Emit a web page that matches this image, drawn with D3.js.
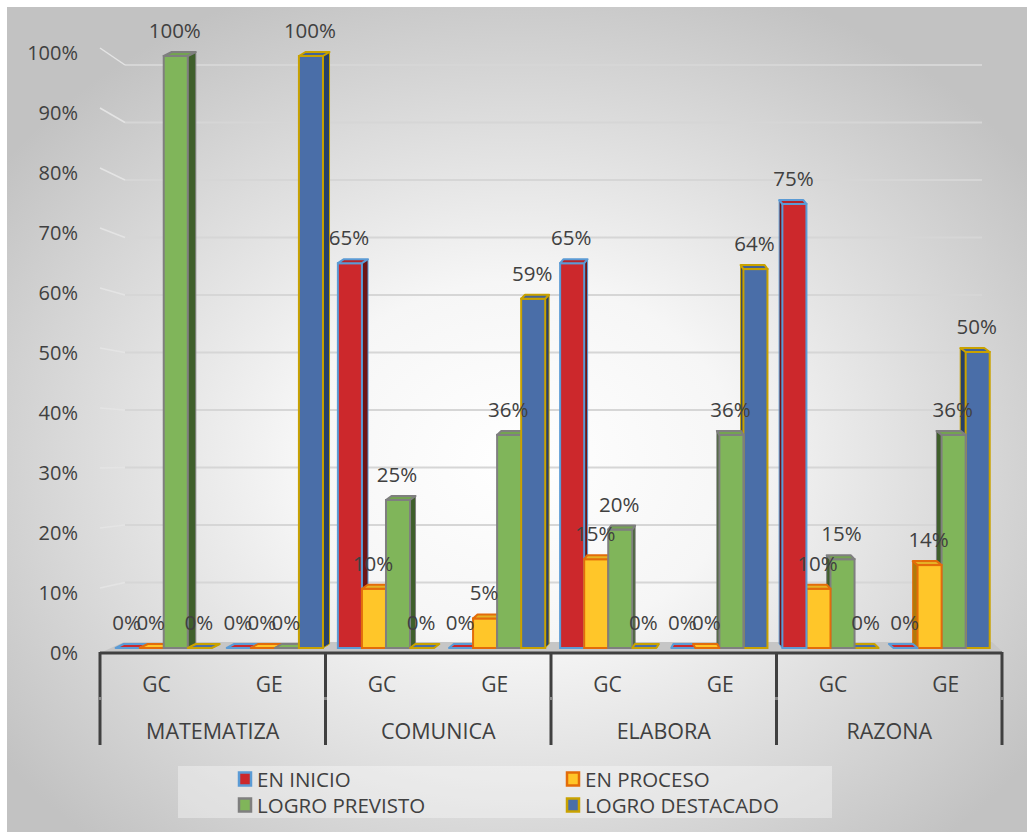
<!DOCTYPE html>
<html>
<head>
<meta charset="utf-8">
<script src="https://cdn.jsdelivr.net/npm/d3@7"></script>
<style>
    html, body { margin: 0; padding: 0; background: #fff; }
    svg { display: block; font-family: "Open Sans", sans-serif; }
</style>
</head>
<body>
<div id="chart"></div>
<script>
// categories
const groups = ['MATEMATIZA', 'COMUNICA', 'ELABORA', 'RAZONA'];
const subgroups = ['GC', 'GE'];
const seriesNames = ['EN INICIO', 'EN PROCESO', 'LOGRO PREVISTO', 'LOGRO DESTACADO'];

// values in %, order: MAT GC, MAT GE, COM GC, COM GE, ELA GC, ELA GE, RAZ GC, RAZ GE
const enInicio       = [0,   0,  65,  0, 65,  0, 75,  0];
const enProceso      = [0,   0,  10,  5, 15,  0, 10, 14];
const logroPrevisto  = [100, 0,  25, 36, 20, 36, 15, 36];
const logroDestacado = [0, 100,   0, 59,  0, 64,  0, 50];

const yTicks = [0, 10, 20, 30, 40, 50, 60, 70, 80, 90, 100];

// look of each series
const fills   = ['#cc282c', '#ffc629', '#80b55a', '#4a6ea8'];
const sides   = ['#6e1416', '#b07a0a', '#3f5f2b', '#28406a'];
const strokes = ['#5b9bd5', '#e36c0a', '#7f7f7f', '#c9a200'];

const width = 1027, height = 832;
const topDepth = 4;
const viewX = 690;   // x where the 3d view looks straight on
const textColor = '#404040';

const svg = d3.select('#chart')
    .append('svg')
    .attr('width', width)
    .attr('height', height);

const defs = svg.append('defs');
const bg = defs.append('radialGradient')
    .attr('id', 'bg')
    .attr('cx', '50%').attr('cy', '55%').attr('r', '62%');
bg.append('stop').attr('offset', '0%').attr('stop-color', '#ffffff');
bg.append('stop').attr('offset', '35%').attr('stop-color', '#f6f6f6');
bg.append('stop').attr('offset', '100%').attr('stop-color', '#c2c2c2');

svg.append('rect')
    .attr('x', 7).attr('y', 7)
    .attr('width', width - 7).attr('height', height - 7)
    .attr('fill', 'url(#bg)');

/* scales: axis bands, and slightly narrower bands for the bars (3d front plane) */
const x0 = d3.scaleBand().domain(groups).range([100, 1002]);
const x1 = d3.scaleBand().domain(subgroups).range([0, x0.bandwidth()]);

const xb0 = d3.scaleBand().domain(groups).range([104, 993]);
const xb1 = d3.scaleBand().domain(subgroups).range([0, xb0.bandwidth()]);
const xb2 = d3.scaleBand().domain(seriesNames).range([0, xb1.bandwidth()])
    .paddingInner(0).paddingOuter(0.31).align(0.78);

const y = d3.scaleLinear().domain([0, 100]).range([648, 56]);      // bars
const yLab = d3.scaleLinear().domain([0, 100]).range([653, 53]);   // axis labels
const yWall = d3.scaleLinear().domain([0, 100]).range([640, 65]);  // back wall

/* gridlines on the back wall */
const grid = svg.append('g').attr('class', 'grid');
grid.selectAll('.gl')
    .data(yTicks.filter(t => t > 0))
    .enter().append('line')
    .attr('x1', 125).attr('x2', 982)
    .attr('y1', d => yWall(d)).attr('y2', d => yWall(d))
    .attr('stroke', '#d6d6d6').attr('stroke-width', 2);
grid.selectAll('.side')
    .data(yTicks.filter(t => t > 0))
    .enter().append('line')
    .attr('x1', 100).attr('x2', 125)
    .attr('y1', d => yLab(d) - 5).attr('y2', d => yWall(d))
    .attr('stroke', '#e4e4e4').attr('stroke-width', 1.5);

/* floor */
svg.append('polygon')
    .attr('points', [[100, 653], [1004, 653], [992, 642], [124, 642]].join(' '))
    .attr('fill', '#c6c6c6');

/* y axis labels */
const yAxis = svg.append('g')
    .attr('transform', 'translate(78,0)')
    .call(d3.axisLeft(yLab).tickValues(yTicks).tickSize(0).tickPadding(0).tickFormat(d => d + '%'));
yAxis.select('.domain').remove();
yAxis.selectAll('text')
    .attr('font-family', '"Open Sans", sans-serif')
    .attr('font-size', 20)
    .attr('fill', textColor);

/* bars */
const seriesValues = [enInicio, enProceso, logroPrevisto, logroDestacado];
const rows = [];
seriesValues.forEach((vals, si) => {
    vals.forEach((v, i) => {
        rows.push({
            series: seriesNames[si],
            si: si,
            group: groups[Math.floor(i / subgroups.length)],
            sub: subgroups[i % subgroups.length],
            value: v
        });
    });
});

const bw = xb2.bandwidth();
const barX = d => xb0(d.group) + xb1(d.sub) + xb2(d.series);
const barCx = d => barX(d) + bw / 2;
// visible side: right of the bar left of the view point, left of it otherwise
const sideW = d => {
    const dx = barCx(d) - viewX;
    const w = Math.min(8, 2 + 0.012 * Math.abs(dx));
    return dx < 0 ? w : -w;
};

/* draw from the outside toward the view point so nearer faces cover */
const ordered = rows.slice().sort((a, b) => {
    const ra = barCx(a) < viewX ? 0 : 1, rb = barCx(b) < viewX ? 0 : 1;
    if (ra !== rb) return ra - rb;
    return ra === 0 ? barCx(a) - barCx(b) : barCx(b) - barCx(a);
});

const bars = svg.append('g').attr('class', 'bars')
    .selectAll('.bar')
    .data(ordered)
    .enter().append('g')
    .attr('class', 'bar');

bars.append('polygon')   // side face
    .attr('points', d => {
        const x = barX(d), t = y(d.value), b = y(0), s = sideW(d);
        const ex = s > 0 ? x + bw : x;
        return [[ex, t], [ex + s, t - topDepth], [ex + s, b - topDepth], [ex, b]].join(' ');
    })
    .attr('fill', d => sides[d.si])
    .attr('stroke', d => strokes[d.si])
    .attr('stroke-width', 1);

bars.filter(d => d.value > 0).append('rect')   // front face
    .attr('x', d => barX(d))
    .attr('y', d => y(d.value))
    .attr('width', bw)
    .attr('height', d => y(0) - y(d.value))
    .attr('fill', d => fills[d.si])
    .attr('stroke', d => strokes[d.si])
    .attr('stroke-width', 2);

bars.append('polygon')   // top face
    .attr('points', d => {
        const x = barX(d), t = y(d.value), s = sideW(d);
        return [[x, t], [x + s, t - topDepth], [x + bw + s, t - topDepth], [x + bw, t]].join(' ');
    })
    .attr('fill', d => d.value > 0 ? d3.color(fills[d.si]).darker(0.3) : fills[d.si])
    .attr('stroke', d => strokes[d.si])
    .attr('stroke-width', 2)
    .attr('stroke-linejoin', 'round');

/* data labels */
svg.append('g').attr('class', 'labels')
    .selectAll('text')
    .data(rows)
    .enter().append('text')
    .attr('x', d => barCx(d) - 1)
    .attr('y', d => y(d.value) - 26)
    .attr('text-anchor', 'middle')
    .attr('dominant-baseline', 'central')
    .attr('font-size', 20.5)
    .attr('fill', textColor)
    .text(d => d.value + '%');

/* category axis */
const axis = svg.append('g').attr('class', 'x-axis');
const edges = groups.map(g => x0(g)).concat([x0.range()[1]]);
axis.append('line')
    .attr('x1', x0.range()[0]).attr('x2', x0.range()[1])
    .attr('y1', 653).attr('y2', 653)
    .attr('stroke', textColor).attr('stroke-width', 3);
axis.selectAll('.sep')
    .data(edges)
    .enter().append('line')
    .attr('x1', d => d).attr('x2', d => d)
    .attr('y1', 652).attr('y2', 745)
    .attr('stroke', textColor).attr('stroke-width', 3);
axis.selectAll('.row')
    .data(edges)
    .enter().append('line')
    .attr('x1', d => d).attr('x2', d => d)
    .attr('y1', 697).attr('y2', 700)
    .attr('stroke', '#8a8a8a').attr('stroke-width', 3);

const subLabels = [];
groups.forEach(g => subgroups.forEach(s => subLabels.push({ g, s })));
axis.selectAll('.sub')
    .data(subLabels)
    .enter().append('text')
    .attr('x', d => x0(d.g) + x1(d.s) + x1.bandwidth() / 2)
    .attr('y', 684)
    .attr('text-anchor', 'middle')
    .attr('dominant-baseline', 'central')
    .attr('font-size', 21)
    .attr('fill', textColor)
    .text(d => d.s);

axis.selectAll('.grp')
    .data(groups)
    .enter().append('text')
    .attr('x', d => x0(d) + x0.bandwidth() / 2)
    .attr('y', 730)
    .attr('text-anchor', 'middle')
    .attr('dominant-baseline', 'central')
    .attr('font-size', 21.5)
    .attr('fill', textColor)
    .text(d => d);

/* legend */
const legend = svg.append('g').attr('class', 'legend');
legend.append('rect')
    .attr('x', 178).attr('y', 766)
    .attr('width', 654).attr('height', 52)
    .attr('fill', '#ffffff').attr('fill-opacity', 0.35);

const legendPos = [[238, 779], [566, 779], [238, 805], [566, 805]];
const items = legend.selectAll('.item')
    .data(seriesNames)
    .enter().append('g')
    .attr('transform', (d, i) => `translate(${legendPos[i][0]},${legendPos[i][1]})`);
items.append('rect')
    .attr('x', 1).attr('y', -6.5)
    .attr('width', 12).attr('height', 13)
    .attr('fill', (d, i) => fills[i])
    .attr('stroke', (d, i) => strokes[i])
    .attr('stroke-width', 2.5);
items.append('text')
    .attr('x', 19).attr('y', 0)
    .attr('dominant-baseline', 'central')
    .attr('font-size', 20.5)
    .attr('fill', textColor)
    .text(d => d);
</script>
</body>
</html>
